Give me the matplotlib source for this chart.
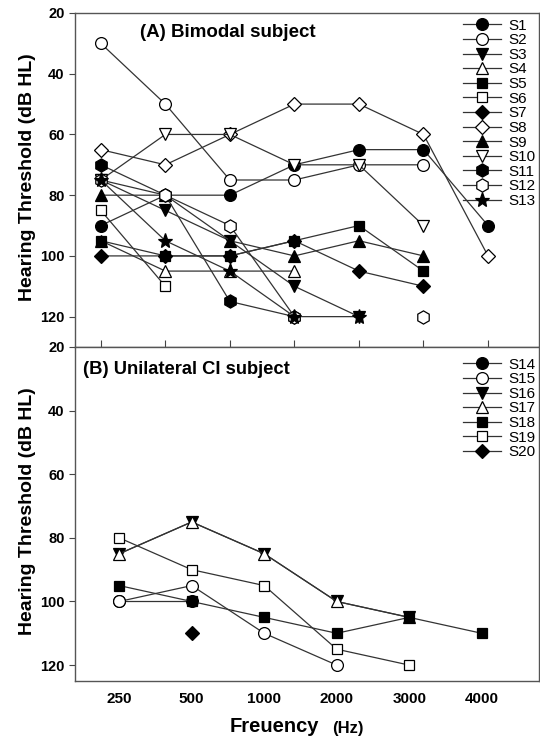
import numpy as np
import matplotlib
matplotlib.use('Agg')
import matplotlib.pyplot as plt

plt.rcParams['font.family'] = ['Liberation Sans', 'DejaVu Sans']

nan = np.nan

# panel A: bimodal subjects, 7 test frequencies (unlabelled positions)
freq_a = [0, 1, 2, 3, 4, 5, 6]
S1 = [90, 80, 80, 70, 65, 65, 90]
S2 = [30, 50, 75, 75, 70, 70, nan]
S3 = [75, 85, 95, 110, 120, nan, nan]
S4 = [95, 105, 105, 105, nan, nan, nan]
S5 = [95, 100, 100, 95, 90, 105, nan]
S6 = [85, 110, nan, nan, nan, nan, nan]
S7 = [100, 100, 100, 95, 105, 110, nan]
S8 = [65, 70, 60, 50, 50, 60, 100]
S9 = [80, 80, 95, 100, 95, 100, nan]
S10 = [75, 60, 60, 70, 70, 90, nan]
S11 = [70, 80, 115, 120, nan, nan, nan]
S12 = [75, 80, 90, 120, nan, 120, nan]
S13 = [75, 95, 105, 120, 120, nan, nan]

# panel B: unilateral CI subjects
freq_b = ['250', '500', '1000', '2000', '3000', '4000']
S14 = [100, 100, nan, nan, nan, nan]
S15 = [100, 95, 110, 120, nan, nan]
S16 = [85, 75, 85, 100, 105, nan]
S17 = [85, 75, 85, 100, 105, nan]
S18 = [95, 100, 105, 110, 105, 110]
S19 = [80, 90, 95, 115, 120, nan]
S20 = [nan, 110, nan, nan, nan, nan]

series_a = [('S1', S1, 'o', 'k'), ('S2', S2, 'o', 'w'), ('S3', S3, 'v', 'k'),
            ('S4', S4, '^', 'w'), ('S5', S5, 's', 'k'), ('S6', S6, 's', 'w'),
            ('S7', S7, 'D', 'k'), ('S8', S8, 'D', 'w'), ('S9', S9, '^', 'k'),
            ('S10', S10, 'v', 'w'), ('S11', S11, 'h', 'k'), ('S12', S12, 'h', 'w'),
            ('S13', S13, '*', 'k')]
series_b = [('S14', S14, 'o', 'k'), ('S15', S15, 'o', 'w'), ('S16', S16, 'v', 'k'),
            ('S17', S17, '^', 'w'), ('S18', S18, 's', 'k'), ('S19', S19, 's', 'w'),
            ('S20', S20, 'D', 'k')]

msize = {'o': 8.5, 'v': 8.5, '^': 8.5, 's': 7.5, 'D': 7, 'h': 9.5, '*': 11}

fig = plt.figure(figsize=(5.4, 7.43), dpi=100)
W, H = 540, 743
ax1 = fig.add_axes([75 / W, (H - 347) / H, 464 / W, 334 / H])
ax2 = fig.add_axes([75 / W, (H - 681) / H, 464 / W, 334 / H])


def draw(ax, x, series):
    for name, vals, m, fc in series:
        ax.plot(x, np.array(vals, dtype=float), color='#333333', lw=0.9,
                marker=m, markersize=msize[m], markerfacecolor=fc,
                markeredgecolor='k', markeredgewidth=0.9, label=name)


draw(ax1, freq_a, series_a)
draw(ax2, range(len(freq_b)), series_b)

ax1.set_xlim(-0.4, 6.79)
ax1.set_ylim(130, 20)
ax1.set_xticks(freq_a)
ax1.set_xticklabels([])
ax1.tick_params(axis='x', direction='in', length=5, color='#444444')

ax2.set_xlim(-0.61, 5.79)
ax2.set_ylim(125, 20)
ax2.set_xticks(range(len(freq_b)))
ax2.set_xticklabels(freq_b, fontsize=11, fontweight='bold')
ax2.tick_params(axis='x', length=0, pad=8)

for ax in (ax1, ax2):
    ax.set_yticks([20, 40, 60, 80, 100, 120])
    ax.set_yticklabels(['20', '40', '60', '80', '100', '120'], fontsize=10.5, fontweight='bold')
    ax.tick_params(axis='y', direction='out', length=4, color='#444444')
    for s in ax.spines.values():
        s.set_color('#555555')
        s.set_linewidth(1.0)
    ax.set_ylabel('Hearing Threshold (dB HL)', fontsize=14, fontweight='bold')
    ax.yaxis.set_label_coords(-0.085, 0.51)

ax1.text(0.14, 0.943, '(A) Bimodal subject', transform=ax1.transAxes,
         fontsize=13.5, fontweight='bold', va='center')
ax2.text(0.017, 0.934, '(B) Unilateral CI subject', transform=ax2.transAxes,
         fontsize=13.2, fontweight='bold', va='center')

ax1.legend(loc='upper right', bbox_to_anchor=(1.009, 1.006), frameon=False,
           fontsize=11, labelspacing=0.04, handlelength=2.5, handletextpad=0.5,
           borderaxespad=0.1)
ax2.legend(loc='upper right', bbox_to_anchor=(1.009, 0.991), frameon=False,
           fontsize=11, labelspacing=0.04, handlelength=2.5, handletextpad=0.5,
           borderaxespad=0.1)

fig.text(230 / W, 1 - 727 / H, 'Freuency', fontsize=14.5, fontweight='bold', va='center')
fig.text(332 / W, 1 - 729 / H, '(Hz)', fontsize=12, fontweight='bold', va='center')

fig.savefig('out.png', dpi=100)
